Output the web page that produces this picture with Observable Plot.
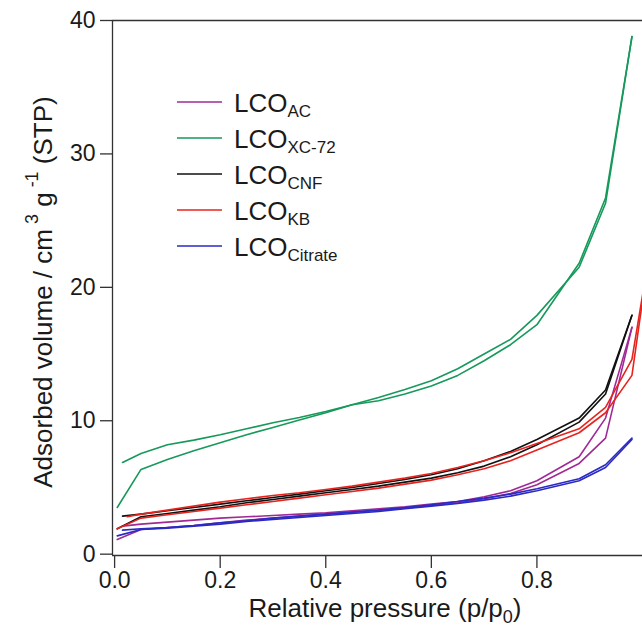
<!DOCTYPE html>
<html>
<head>
<meta charset="utf-8">
<script src="https://cdn.jsdelivr.net/npm/d3@7"></script>
<script src="https://cdn.jsdelivr.net/npm/@observablehq/plot@0.6"></script>
<style>
  html, body { margin: 0; padding: 0; background: #fff; }
  #chart { width: 642px; height: 641px; }
</style>
</head>
<body>
<div id="chart"></div>
<script>
// ---- data (relative pressure p/p0 and adsorbed volume, cm3 g-1 STP) ----
const SERIES = ["AC", "XC-72", "CNF", "KB", "Citrate"];
const COLORS = ["#a02a94", "#16995a", "#111111", "#e8231e", "#2a2ac4"];

const P_ADS = [0.005, 0.05, 0.1, 0.15, 0.2, 0.25, 0.3, 0.35, 0.4, 0.45, 0.5, 0.55, 0.6, 0.65, 0.7, 0.75, 0.8, 0.88, 0.93, 0.98];
const P_DES = [0.98, 0.93, 0.88, 0.8, 0.75, 0.7, 0.65, 0.6, 0.55, 0.5, 0.45, 0.4, 0.35, 0.3, 0.25, 0.2, 0.15, 0.1, 0.05, 0.015];
const P_ADS_KB = [0.005, 0.05, 0.1, 0.15, 0.2, 0.25, 0.3, 0.35, 0.4, 0.45, 0.5, 0.55, 0.6, 0.65, 0.7, 0.75, 0.8, 0.88, 0.93, 0.98, 1.01];
const P_DES_KB = [1.01, 0.98, 0.93, 0.88, 0.8, 0.75, 0.7, 0.65, 0.6, 0.55, 0.5, 0.45, 0.4, 0.35, 0.3, 0.25, 0.2, 0.15, 0.1, 0.05, 0.024];

const AC_ADS = [1.1, 1.85, 2.0, 2.15, 2.35, 2.55, 2.7, 2.85, 3.0, 3.15, 3.3, 3.45, 3.65, 3.85, 4.15, 4.55, 5.2, 6.8, 8.7, 17.0];
const AC_DES = [17.0, 10.2, 7.3, 5.5, 4.75, 4.3, 3.95, 3.75, 3.55, 3.4, 3.25, 3.1, 3.0, 2.9, 2.8, 2.7, 2.55, 2.4, 2.25, 2.1];

const XC_ADS = [3.5, 6.35, 7.1, 7.75, 8.35, 8.95, 9.5, 10.05, 10.6, 11.2, 11.75, 12.35, 13.0, 13.9, 15.0, 16.1, 17.9, 21.5, 26.3, 38.8];
const XC_DES = [38.8, 26.7, 21.8, 17.2, 15.7, 14.5, 13.4, 12.6, 12.0, 11.5, 11.2, 10.7, 10.25, 9.85, 9.4, 8.95, 8.55, 8.2, 7.55, 6.87];

const CNF_ADS = [1.9, 2.8, 3.05, 3.3, 3.55, 3.85, 4.1, 4.35, 4.6, 4.85, 5.1, 5.4, 5.7, 6.1, 6.6, 7.3, 8.2, 9.9, 12.0, 17.9];
const CNF_DES = [17.9, 12.3, 10.2, 8.6, 7.7, 7.0, 6.4, 5.95, 5.6, 5.3, 5.0, 4.75, 4.5, 4.25, 4.0, 3.75, 3.5, 3.25, 3.0, 2.85];

const KB_ADS = [1.9, 2.7, 2.95, 3.2, 3.45, 3.7, 3.95, 4.2, 4.45, 4.7, 4.95, 5.25, 5.55, 5.95, 6.4, 7.0, 7.8, 9.1, 10.6, 13.4, 21.8];
const KB_DES = [21.8, 14.6, 11.0, 9.4, 8.3, 7.6, 7.0, 6.5, 6.05, 5.7, 5.4, 5.1, 4.85, 4.6, 4.4, 4.15, 3.9, 3.6, 3.3, 3.0, 2.8];

const CIT_ADS = [1.37, 1.85, 1.95, 2.1, 2.25, 2.45, 2.6, 2.75, 2.9, 3.05, 3.2, 3.4, 3.6, 3.8, 4.05, 4.35, 4.75, 5.5, 6.5, 8.6];
const CIT_DES = [8.7, 6.7, 5.65, 4.9, 4.5, 4.2, 3.95, 3.7, 3.5, 3.3, 3.15, 3.0, 2.85, 2.7, 2.5, 2.35, 2.15, 2.0, 1.9, 1.8];

const X_TICKS = [0, 0.2, 0.4, 0.6, 0.8];
const Y_TICKS = [0, 10, 20, 30, 40];

// ---- build table ----
const branches = [
  ["AC", "ads", P_ADS, AC_ADS], ["AC", "des", P_DES, AC_DES],
  ["XC-72", "ads", P_ADS, XC_ADS], ["XC-72", "des", P_DES, XC_DES],
  ["CNF", "ads", P_ADS, CNF_ADS], ["CNF", "des", P_DES, CNF_DES],
  ["KB", "ads", P_ADS_KB, KB_ADS], ["KB", "des", P_DES_KB, KB_DES],
  ["Citrate", "ads", P_ADS, CIT_ADS], ["Citrate", "des", P_DES, CIT_DES]
];
const rows = [];
for (const [s, b, ps, vs] of branches) {
  ps.forEach((p, i) => rows.push({series: s, key: s + "-" + b, p, v: vs[i]}));
}

const FONT = "'Liberation Sans', Arial, sans-serif";
const X_DOMAIN = [-0.004, 1.0];
const Y_DOMAIN = [-0.1, 40];

const plot = Plot.plot({
  width: 642,
  height: 641,
  marginLeft: 112,
  marginRight: 0,
  marginTop: 20,
  marginBottom: 86,
  style: {fontFamily: FONT, fontSize: "23px", color: "#1a1a1a", background: "#fff", overflow: "visible"},
  x: {domain: X_DOMAIN, ticks: X_TICKS, tickFormat: d => d.toFixed(1), tickSize: 13, tickPadding: 3, label: null},
  y: {domain: Y_DOMAIN, ticks: Y_TICKS, tickSize: 12, tickPadding: 5, label: null},
  color: {domain: SERIES, range: COLORS},
  marks: [
    Plot.line(rows, {x: "p", y: "v", z: "key", stroke: "series", strokeWidth: 1.6, clip: true}),
    Plot.ruleY([Y_DOMAIN[1]], {stroke: "#333", strokeWidth: 1.3}),
    Plot.ruleY([Y_DOMAIN[0]], {stroke: "#333", strokeWidth: 1.3}),
    Plot.ruleX([X_DOMAIN[0]], {stroke: "#333", strokeWidth: 1.3})
  ]
});
document.getElementById("chart").appendChild(plot);

const svg = d3.select(plot);
svg.selectAll("g[aria-label='x-axis tick'] path, g[aria-label='y-axis tick'] path").attr("stroke", "#333").attr("stroke-width", 1.3);

// axis titles
const yl = svg.append("text")
  .attr("transform", "translate(52,292) rotate(-90)")
  .attr("text-anchor", "middle")
  .attr("font-family", FONT).attr("font-size", 26).attr("fill", "#1a1a1a");
yl.append("tspan").text("Adsorbed volume / cm");
yl.append("tspan").attr("font-size", 18).attr("dy", -14).text(" 3");
yl.append("tspan").attr("dy", 14).text(" g");
yl.append("tspan").attr("font-size", 18).attr("dy", -14).text(" -1");
yl.append("tspan").attr("dy", 14).text(" (STP)");

const xl = svg.append("text")
  .attr("x", 385).attr("y", 617)
  .attr("text-anchor", "middle")
  .attr("font-family", FONT).attr("font-size", 26).attr("fill", "#1a1a1a");
xl.append("tspan").text("Relative pressure (p/p");
xl.append("tspan").attr("font-size", 18).attr("dy", 6).text("0");
xl.append("tspan").attr("dy", -6).text(")");

// legend
const lg = svg.append("g").attr("text-anchor", "start");
SERIES.forEach((s, i) => {
  const y = 102 + i * 36;
  lg.append("line").attr("x1", 177).attr("x2", 222).attr("y1", y).attr("y2", y)
    .attr("stroke", COLORS[i]).attr("stroke-width", 1.6);
  const t = lg.append("text").attr("x", 234).attr("y", y + 10)
    .attr("text-anchor", "start")
    .attr("font-family", FONT).attr("font-size", 26).attr("fill", "#1a1a1a");
  t.append("tspan").text("LCO");
  t.append("tspan").attr("font-size", 17).attr("dy", 5).text(s);
});
</script>
</body>
</html>
